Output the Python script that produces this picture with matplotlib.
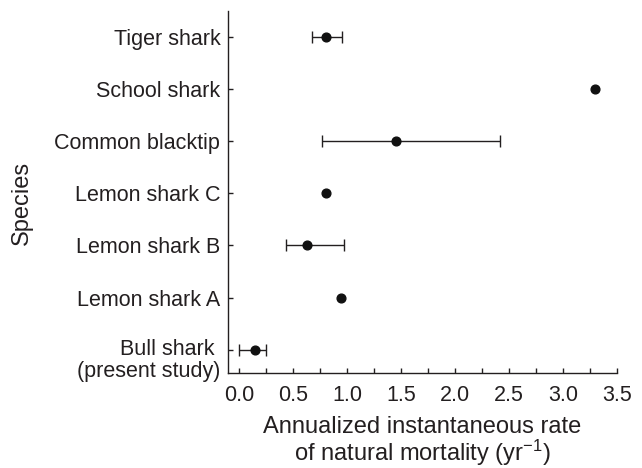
import numpy as np
import matplotlib
matplotlib.use("Agg")
import matplotlib.pyplot as plt
from matplotlib.ticker import MultipleLocator, FormatStrFormatter

# natural mortality estimates per species, bottom to top
species = ["Bull shark \n(present study)", "Lemon shark A", "Lemon shark B",
           "Lemon shark C", "Common blacktip", "School shark", "Tiger shark"]
rate = [0.15, 0.94, 0.63, 0.80, 1.45, 3.30, 0.80]
low = [0.0, np.nan, 0.43, np.nan, 0.77, np.nan, 0.67]
high = [0.25, np.nan, 0.97, np.nan, 2.42, np.nan, 0.95]

plt.rcParams["font.family"] = ["Liberation Sans", "DejaVu Sans"]
plt.rcParams["mathtext.fontset"] = "custom"
plt.rcParams["mathtext.rm"] = "Liberation Sans"
plt.rcParams["mathtext.it"] = "Liberation Sans"
ink = "#231f20"

fig = plt.figure(figsize=(6.42, 4.68), dpi=100)
ax = fig.add_axes([0.355, 0.2023, 0.6057, 0.7742])

y = np.arange(len(species))
rate = np.array(rate)
low = np.array(low)
high = np.array(high)
has_err = ~np.isnan(low)

ax.errorbar(rate[has_err], y[has_err],
            xerr=[rate[has_err] - low[has_err], high[has_err] - rate[has_err]],
            fmt="none", ecolor=ink, elinewidth=1.0, capsize=4.3, capthick=1.0)
ax.plot(rate, y, "o", color="#111111", markersize=6.3, zorder=3)

ax.set_xlim(-0.105, 3.5)
ax.set_ylim(-0.45, 6.49)
ax.xaxis.set_major_locator(MultipleLocator(0.5))
ax.xaxis.set_minor_locator(MultipleLocator(0.25))
ax.xaxis.set_major_formatter(FormatStrFormatter("%.1f"))

ax.set_yticks(y)
ax.set_yticklabels([""] + species[1:])
# two-line label for the bottom row sits a little lower than its tick
ax.annotate(species[0], xy=(0, y[0]), xycoords=ax.get_yaxis_transform(),
            xytext=(-5.5, -7.5), textcoords="offset points",
            ha="right", va="center", fontsize=15.5, color=ink, linespacing=1.05)

for side in ["top", "right"]:
    ax.spines[side].set_visible(False)
for side in ["left", "bottom"]:
    ax.spines[side].set_color(ink)
    ax.spines[side].set_linewidth(1.0)

ax.tick_params(axis="both", which="both", direction="in", color=ink,
               labelcolor=ink, labelsize=15.5, width=1.0)
ax.tick_params(axis="y", length=3.6, pad=5.5)
ax.tick_params(axis="x", which="major", length=3.6, pad=8.5)
ax.tick_params(axis="x", which="minor", length=3.6)

ax.set_xlabel("Annualized instantaneous rate\nof natural mortality (yr$^{-1}$)",
              fontsize=17, color=ink, labelpad=7, linespacing=1.0)
fig.text(22 / 642, 1 - 203 / 468, "Species", rotation=90, ha="center",
         va="center", fontsize=17, color=ink)

fig.savefig("out.png", dpi=100)
